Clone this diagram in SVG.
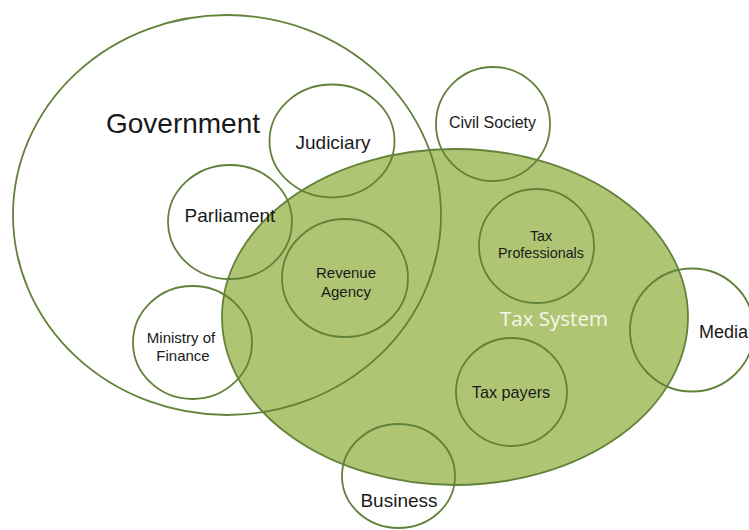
<svg xmlns="http://www.w3.org/2000/svg" width="749" height="530" viewBox="0 0 749 530">
<style>
.o{fill:none;stroke:#62823a;stroke-width:1.8}
.t{font-family:"Liberation Sans",Arial,sans-serif;fill:#1a1a1a;text-anchor:middle}
</style>
<rect width="749" height="530" fill="#fff"/>
<g id="tax-system">
<ellipse cx="455" cy="317" rx="233" ry="168" fill="#afc574" stroke="#62823a" stroke-width="1.8"/>
<text x="554" y="326" text-anchor="middle" font-family="'Open Sans',sans-serif" font-size="20.5" fill="#f4f7ea">Tax System</text>
</g>
<g id="government">
<ellipse class="o" cx="227" cy="215" rx="214" ry="200"/>
<text class="t" x="183" y="133" font-size="28">Government</text>
</g>
<g id="judiciary">
<ellipse class="o" cx="332" cy="141" rx="62.5" ry="56.5"/>
<text class="t" x="333" y="149" font-size="19">Judiciary</text>
</g>
<g id="parliament">
<ellipse class="o" cx="230" cy="222" rx="62" ry="57"/>
<text class="t" x="230" y="222" font-size="19">Parliament</text>
</g>
<g id="revenue-agency">
<ellipse class="o" cx="345" cy="278" rx="63" ry="59"/>
<text class="t" x="346" y="278" font-size="15">Revenue</text>
<text class="t" x="346" y="297" font-size="15">Agency</text>
</g>
<g id="ministry-of-finance">
<ellipse class="o" cx="192.5" cy="342.5" rx="59.5" ry="56.5"/>
<text class="t" x="181" y="343" font-size="15">Ministry of</text>
<text class="t" x="183" y="361" font-size="15">Finance</text>
</g>
<g id="business">
<ellipse class="o" cx="398.5" cy="476" rx="56.5" ry="52"/>
<text class="t" x="399" y="507" font-size="19">Business</text>
</g>
<g id="civil-society">
<ellipse class="o" cx="493" cy="124" rx="57" ry="57"/>
<text class="t" x="492.5" y="128" font-size="16">Civil Society</text>
</g>
<g id="tax-professionals">
<ellipse class="o" cx="536.5" cy="246" rx="57.5" ry="57"/>
<text class="t" x="541" y="241" font-size="14.3">Tax</text>
<text class="t" x="541" y="258" font-size="14.3">Professionals</text>
</g>
<g id="tax-payers">
<ellipse class="o" cx="511.5" cy="392" rx="55.5" ry="54"/>
<text class="t" x="511" y="398" font-size="16.2">Tax payers</text>
</g>
<g id="media">
<ellipse class="o" cx="692" cy="330" rx="62" ry="61.5"/>
<text x="699" y="338" font-family="'Liberation Sans',Arial,sans-serif" font-size="18" fill="#1a1a1a">Media</text>
</g>
<g id="connectors"></g>
</svg>
